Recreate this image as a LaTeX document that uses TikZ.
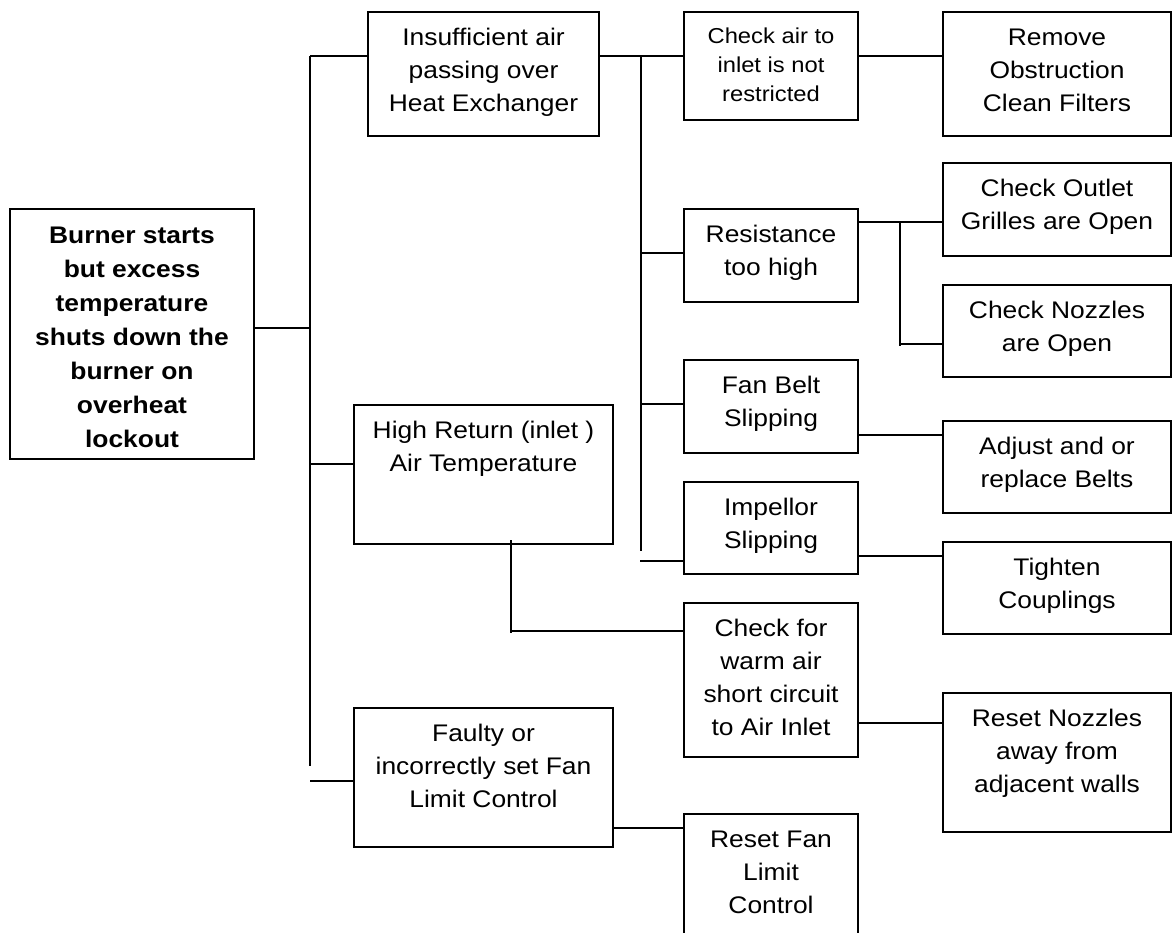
\documentclass[tikz,border=0pt]{standalone}
\usepackage{fontspec}
\setmainfont[FakeStretch=1.1]{Liberation Sans}
\usepackage{tikz}
\usetikzlibrary{calc}

\begin{document}
\begin{tikzpicture}[
    x=0.5pt, y=-0.5pt,
    line width=1pt,
    box/.style 2 args={draw, anchor=north west, inner sep=0pt, minimum width=#1, minimum height=#2},
    txt/.style={anchor=north, align=center, inner sep=0pt, yshift=-8.25pt, font=\fontsize{12}{16.5}\selectfont},
    small txt/.style={txt, yshift=0.25pt, font=\fontsize{10.8}{14.5}\selectfont},
    head txt/.style={txt, yshift=-0.75pt, font=\fontsize{12}{17}\selectfont\bfseries}
    ]
   \useasboundingbox (0,0) rectangle (1172,932);
   \clip (0,0) rectangle (1172,932);
   % boxes
   \node[box={122pt}{125pt}] (burner) at (9,208) {};
   \node[box={115.5pt}{62pt}] (insuff) at (367,11) {};
   \node[box={129.5pt}{69.5pt}] (hiret) at (353,404) {};
   \node[box={129.5pt}{69.5pt}] (faulty) at (353,707) {};
   \node[box={87pt}{54pt}] (chkair) at (683,11) {};
   \node[box={87pt}{46.5pt}] (resist) at (683,208) {};
   \node[box={87pt}{46.5pt}] (fanbelt) at (683,359) {};
   \node[box={87pt}{46pt}] (impel) at (683,481) {};
   \node[box={87pt}{77pt}] (chkwarm) at (683,602) {};
   \node[box={87pt}{80pt}] (resetfan) at (683,813) {};
   \node[box={114pt}{62pt}] (remove) at (942,11) {};
   \node[box={114pt}{46.5pt}] (outlet) at (942,162) {};
   \node[box={114pt}{46pt}] (nozzles) at (942,284) {};
   \node[box={114pt}{46pt}] (adjust) at (942,420) {};
   \node[box={114pt}{46pt}] (tighten) at (942,541) {};
   \node[box={114pt}{69.5pt}] (resetnoz) at (942,692) {};
   % texts
   \node[head txt] (burner-t) at (burner.north) {Burner starts\\but excess\\temperature\\shuts down the\\burner on\\overheat\\lockout};
   \node[txt] (insuff-t) at (insuff.north) {Insufficient air\\passing over\\Heat Exchanger};
   \node[txt] (hiret-t) at (hiret.north) {High Return (inlet )\\Air Temperature};
   \node[txt] (faulty-t) at (faulty.north) {Faulty or\\incorrectly set Fan\\Limit Control};
   \node[small txt] (chkair-t) at (chkair.north) {Check air to\\inlet is not\\restricted};
   \node[txt] (resist-t) at (resist.north) {Resistance\\too high};
   \node[txt] (fanbelt-t) at (fanbelt.north) {Fan Belt\\Slipping};
   \node[txt] (impel-t) at (impel.north) {Impellor\\Slipping};
   \node[txt] (chkwarm-t) at (chkwarm.north) {Check for\\warm air\\short circuit\\to Air Inlet};
   \node[txt] (resetfan-t) at (resetfan.north) {Reset Fan\\Limit\\Control};
   \node[txt] (remove-t) at (remove.north) {Remove\\Obstruction\\Clean Filters};
   \node[txt] (outlet-t) at (outlet.north) {Check Outlet\\Grilles are Open};
   \node[txt] (nozzles-t) at (nozzles.north) {Check Nozzles\\are Open};
   \node[txt] (adjust-t) at (adjust.north) {Adjust and or\\replace Belts};
   \node[txt] (tighten-t) at (tighten.north) {Tighten\\Couplings};
   \node[txt] (resetnoz-t) at (resetnoz.north) {Reset Nozzles\\away from\\adjacent walls};
   % first trunk
   \coordinate (t1a) at (310,56);
   \coordinate (t1b) at (310,766);
   \coordinate (t1c) at (310,328);
   \coordinate (t1d) at (310,464);
   \coordinate (t1e) at (310,781);
   \draw (t1a) -- (t1b);
   \draw (burner.east |- t1c) -- (t1c);
   \draw (t1a) -- (insuff.west |- t1a);
   \draw (t1d) -- (hiret.west |- t1d);
   \draw (t1e) -- (faulty.west |- t1e);
   % second trunk
   \coordinate (t2a) at (641,56);
   \coordinate (t2b) at (641,551);
   \coordinate (t2c) at (641,253);
   \coordinate (t2d) at (641,404);
   \coordinate (t2e) at (640,561);
   \draw (insuff.east |- t2a) -- (chkair.west |- t2a);
   \draw (t2a) -- (t2b);
   \draw (t2c) -- (resist.west |- t2c);
   \draw (t2d) -- (fanbelt.west |- t2d);
   \draw (t2e) -- (impel.west |- t2e);
   % third trunk
   \coordinate (t3a) at (900,222);
   \coordinate (t3b) at (900,346);
   \coordinate (t3c) at (900,344);
   \draw (resist.east |- t3a) -- (outlet.west |- t3a);
   \draw (t3a) -- (t3b);
   \draw (t3c) -- (nozzles.west |- t3c);
   % single links
   \coordinate (l-fan) at (900,435);
   \coordinate (l-imp) at (900,556);
   \coordinate (l-warm) at (900,723);
   \coordinate (l-lim) at (650,828);
   \coordinate (l-hr1) at (511,540);
   \coordinate (l-hr2) at (511,633);
   \coordinate (l-hr3) at (511,631);
   \draw (chkair.east |- t2a) -- (remove.west |- t2a);
   \draw (fanbelt.east |- l-fan) -- (adjust.west |- l-fan);
   \draw (impel.east |- l-imp) -- (tighten.west |- l-imp);
   \draw (chkwarm.east |- l-warm) -- (resetnoz.west |- l-warm);
   \draw (faulty.east |- l-lim) -- (resetfan.west |- l-lim);
   \draw (l-hr1) -- (l-hr2);
   \draw (l-hr3) -- (chkwarm.west |- l-hr3);
\end{tikzpicture}
\end{document}
